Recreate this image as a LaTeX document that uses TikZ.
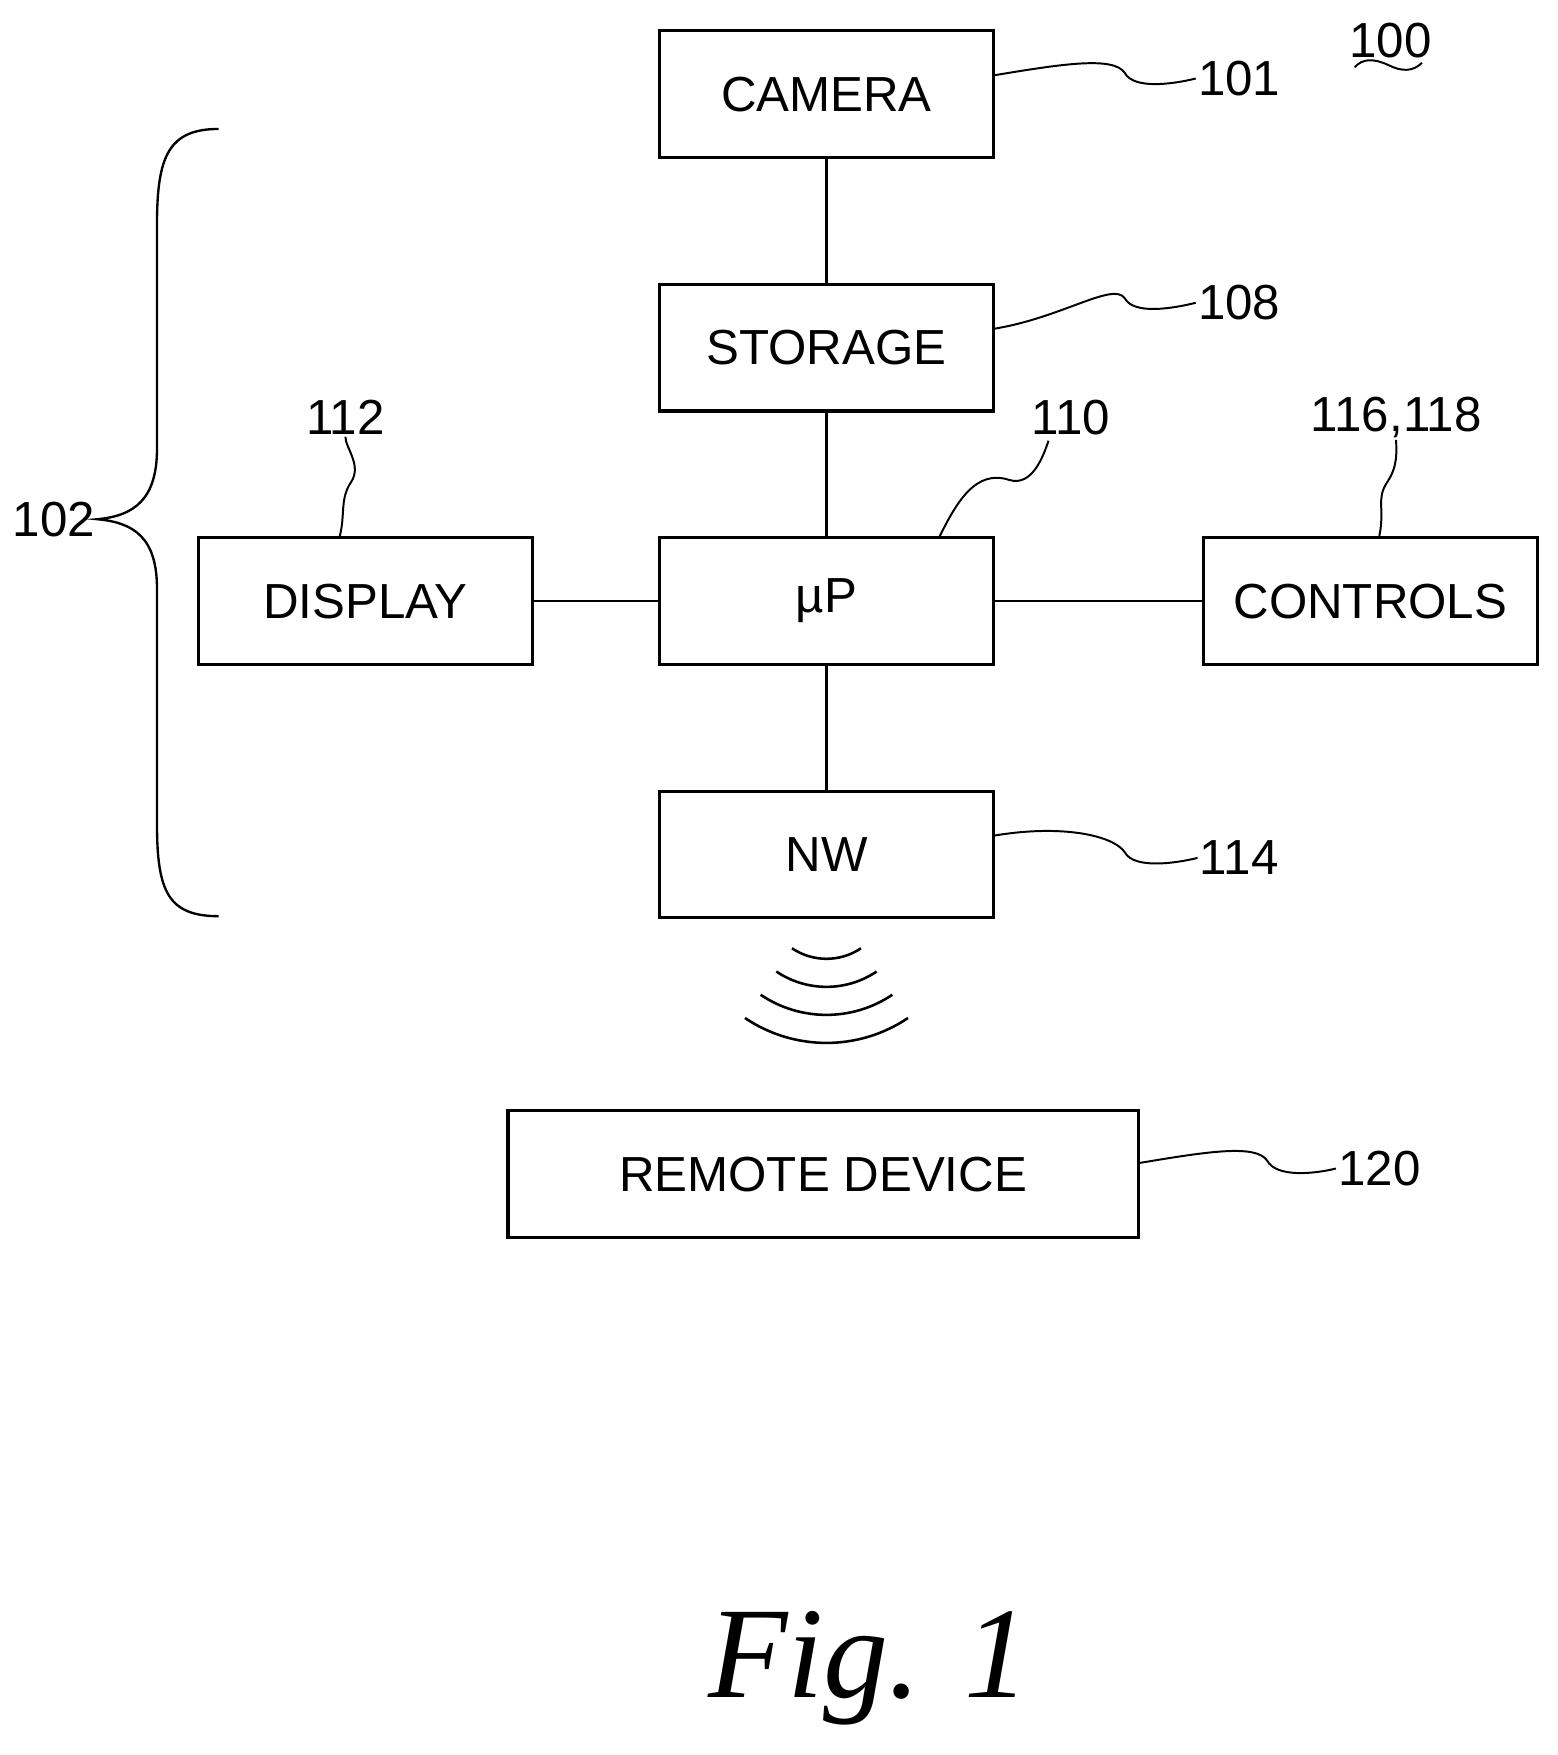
\documentclass[tikz,border=0pt]{standalone}
\usepackage{fontspec}
\setmainfont{Liberation Sans}
\newfontfamily\figfont{Liberation Serif}
\usetikzlibrary{positioning}

\begin{document}
\begin{tikzpicture}[
  x=0.02cm, y=-0.02cm,
  box/.style={rectangle, draw=black, line width=1.6pt, minimum width=5.96cm, minimum height=2.26cm, inner sep=0pt, font=\fontsize{25}{25}\selectfont},
  num/.style={font=\fontsize{25}{25}\selectfont, inner sep=1pt},
  lead/.style={line width=1pt},
  link/.style={line width=1.2pt}
]
\useasboundingbox (0,0) rectangle (1389,1565);

% blocks
\node (camera) [box] at (737,84) {CAMERA};
\node (storage) [box] at (737,310) {STORAGE};
\node (up) [box] at (737,536) {µP};
\node (display) [box] at (326,536) {DISPLAY};
\node (controls) [box] at (1222,536) {CONTROLS};
\node (nw) [box] at (737,762) {NW};
\node (remote) [box, minimum width=11.24cm] at (734,1047) {REMOTE DEVICE};

\draw[link] (camera) -- (storage);
\draw[link] (storage) -- (up);
\draw[link] (display) -- (up);
\draw[link] (up) -- (controls);
\draw[link] (up) -- (nw);

% reference numerals
\node (n100) [num] at (1240,36) {100};
\node (n101) [num] at (1105,70) {101};
\node (n108) [num] at (1105,270) {108};
\node (n112) [num] at (308,372) {112};
\node (n110) [num] at (955,372) {110};
\node (n116) [num] at (1245,372) {116,118};
\node (n114) [num] at (1105,765) {114};
\node (n120) [num] at (1230,1042) {120};
\node (n102) [num] at (48,463) {102};

\draw[lead] (1208,60) .. controls (1215,52) and (1225,52) .. (1238,58) .. controls (1250,64) and (1260,64) .. (1268,56);

% leaders
\draw[lead] ([yshift=0.34cm]camera.east) .. controls +(60,-10) and +(-10,-15) .. (1003,65) .. controls +(8,15) and +(-20,5) .. (n101.west);
\draw[lead] ([yshift=0.34cm]storage.east) .. controls +(60,-10) and +(-10,-15) .. (1003,266) .. controls +(8,15) and +(-20,5) .. (n108.west);
\draw[lead] ([yshift=0.34cm]nw.east) .. controls +(60,-10) and +(-10,-15) .. (1003,760) .. controls +(8,15) and +(-20,5) .. (n114.west);
\draw[lead] ([yshift=0.2cm]remote.east) .. controls +(60,-10) and +(-10,-15) .. (1130,1035) .. controls +(8,15) and +(-20,5) .. (n120.west);
\draw[lead] ([xshift=-0.46cm]display.north) .. controls +(5,-20) and +(-10,15) .. (313,430) .. controls +(10,-15) and +(0,10) .. (n112.south);
\draw[lead] ([xshift=2.02cm]up.north) .. controls +(15,-30) and +(-30,-10) .. (900,428) .. controls +(20,6) and +(-5,15) .. (935,393);
\draw[lead] ([xshift=0.16cm]controls.north) .. controls +(5,-25) and +(-10,15) .. (1237,430) .. controls +(10,-15) and +(0,10) .. (n116.south);

% grouping brace
\draw[lead, line width=1.2pt] (195,115) .. controls (150,115) and (140,140) .. (140,200) -- (140,400) .. controls (140,445) and (120,460) .. (n102.east) .. controls (120,466) and (140,480) .. (140,525) -- (140,735) .. controls (140,795) and (150,817) .. (195,817);

% wireless signal
\foreach \r in {55,80,105,130}
  \draw[line width=1.3pt] (737,800) ++(56:\r) arc[start angle=56, end angle=124, radius=\r];

\node (caption) [font=\figfont\fontsize{66}{66}\selectfont\itshape] at (775,1488) {Fig. 1};
\end{tikzpicture}
\end{document}
